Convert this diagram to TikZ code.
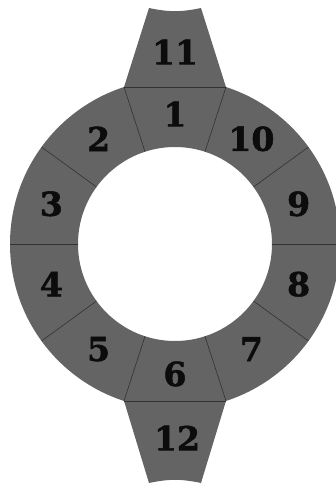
\documentclass[tikz,border=0pt]{standalone}
\usepackage{fontspec}
\newfontfamily\digitfont[BoldFeatures={FakeBold=1.6}]{DejaVu Serif}
\usepackage{tikz}
\definecolor{slate}{RGB}{100,100,100}
\definecolor{seamgray}{RGB}{50,50,50}
\definecolor{ink}{RGB}{12,12,12}

\begin{document}
\begin{tikzpicture}[x=1pt, y=1pt,
  tile/.style={fill=slate},
  seam/.style={draw=seamgray, line width=0.6pt},
  num/.style={text=ink, inner sep=0pt, font=\digitfont\bfseries\fontsize{33}{33}\selectfont}]
  \useasboundingbox (-175,-240) rectangle (161,244);
  % ring and the two end tabs
  \fill[tile, even odd rule] (0,0) circle (165pt) (0,0) circle (97pt);
  \fill[tile] (72:165) -- (26,236) to[bend left=12] (-26,236) -- (108:165) -- cycle;
  \fill[tile] (-72:165) -- (26,-239) to[bend right=12] (-26,-239) -- (-108:165) -- cycle;
  % seams
  \foreach \a in {0,36,...,324} \draw[seam] (\a:97) -- (\a:165);
  \draw[seam] (72:165) -- (108:165); \draw[seam] (-72:165) -- (-108:165);
  % numbers
  \foreach \i in {1,...,10}
    \node[num] (n\i) at ({90+36*(\i-1)}:130) {\i};
  \node[num] (n11) at (0,192) {11};
  \node[num] (n12) at (2,-194) {12};
\end{tikzpicture}
\end{document}
